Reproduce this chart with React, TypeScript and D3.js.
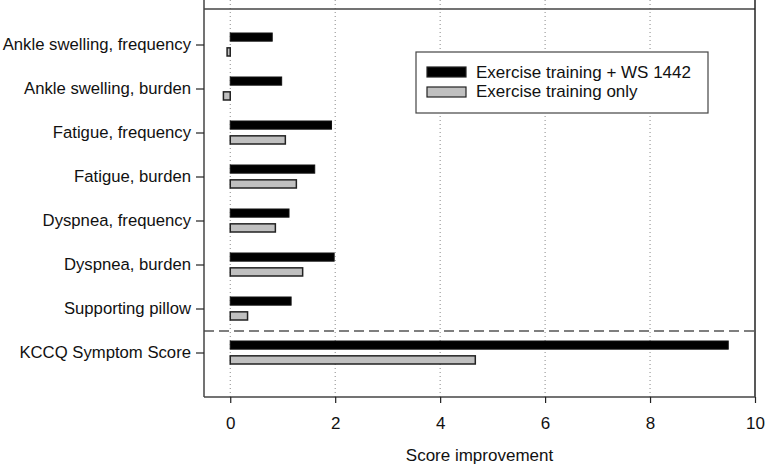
import React, { useEffect, useRef } from 'react';
import * as d3 from 'd3';

const categories = [
  'Ankle swelling, frequency',
  'Ankle swelling, burden',
  'Fatigue, frequency',
  'Fatigue, burden',
  'Dyspnea, frequency',
  'Dyspnea, burden',
  'Supporting pillow',
  'KCCQ Symptom Score'
];

const seriesNames = ['Exercise training + WS 1442', 'Exercise training only'];

// 运动训练 + WS 1442
const withWs1442 = [0.8, 0.98, 1.93, 1.61, 1.12, 1.98, 1.16, 9.49];
// 仅运动训练
const trainingOnly = [-0.06, -0.13, 1.05, 1.26, 0.86, 1.38, 0.33, 4.67];

const xTicks = [0, 2, 4, 6, 8, 10];

const W = 767;
const H = 467;
const FONT = '"Liberation Sans", Arial, Helvetica, sans-serif';

const App: React.FC = () => {
  const svgRef = useRef<SVGSVGElement>(null);

  useEffect(() => {
    if (!svgRef.current) return;
    const svg = d3.select(svgRef.current);
    svg.selectAll('*').remove();

    const left = 204;
    const right = 755;
    const bottom = 397;
    const topLine = 9;

    const x = d3.scaleLinear().domain([-0.5, 10]).range([left, right]);
    const y = d3.scaleBand<string>().domain(categories).range([23, 375]);
    const sub = d3.scaleBand<string>().domain(seriesNames).range([y.bandwidth() / 2 - 12, y.bandwidth() / 2 + 11]).paddingInner(0.45);

    const g = svg.append('g').attr('font-family', FONT);

    // 网格线（虚点）
    g.selectAll('line.grid')
      .data(xTicks.filter(t => t < 10))
      .enter()
      .append('line')
      .attr('class', 'grid')
      .attr('x1', d => x(d))
      .attr('x2', d => x(d))
      .attr('y1', 0)
      .attr('y2', bottom)
      .attr('stroke', '#888')
      .attr('stroke-width', 1)
      .attr('stroke-dasharray', '1,3');

    // 柱子
    const rows = g.selectAll('g.row')
      .data(categories)
      .enter()
      .append('g')
      .attr('class', 'row')
      .attr('transform', d => `translate(0, ${y(d)})`);

    rows.append('rect')
      .attr('x', (d, i) => x(Math.min(0, withWs1442[i])))
      .attr('y', sub(seriesNames[0])!)
      .attr('width', (d, i) => Math.abs(x(withWs1442[i]) - x(0)))
      .attr('height', sub.bandwidth())
      .attr('fill', '#000')
      .attr('stroke', '#111')
      .attr('stroke-width', 1);

    rows.append('rect')
      .attr('x', (d, i) => x(Math.min(0, trainingOnly[i])))
      .attr('y', sub(seriesNames[1])!)
      .attr('width', (d, i) => Math.abs(x(trainingOnly[i]) - x(0)))
      .attr('height', sub.bandwidth())
      .attr('fill', '#c0c0c0')
      .attr('stroke', '#222')
      .attr('stroke-width', 1.5);

    // 分隔虚线
    const sepY = (y('Supporting pillow')! + y('KCCQ Symptom Score')!) / 2 + y.bandwidth() / 2;
    g.append('line')
      .attr('x1', left)
      .attr('x2', right)
      .attr('y1', sepY)
      .attr('y2', sepY)
      .attr('stroke', '#555')
      .attr('stroke-width', 1.5)
      .attr('stroke-dasharray', '10,5');

    // 边框
    g.append('line')
      .attr('x1', left).attr('x2', right)
      .attr('y1', topLine).attr('y2', topLine)
      .attr('stroke', '#444').attr('stroke-width', 1.5);
    g.append('line')
      .attr('x1', right).attr('x2', right)
      .attr('y1', 0).attr('y2', bottom)
      .attr('stroke', '#222').attr('stroke-width', 1.5);

    // x 轴
    const xAxis = g.append('g')
      .attr('transform', `translate(0, ${bottom})`)
      .call(d3.axisBottom(x).tickValues(xTicks).tickSize(6).tickPadding(14).tickSizeOuter(0));
    xAxis.select('.domain').attr('stroke', '#444').attr('stroke-width', 1.5).attr('d', `M${left},0H${right}`);
    xAxis.selectAll('.tick line').attr('stroke', '#222').attr('stroke-width', 1.2);
    xAxis.selectAll('.tick text')
      .attr('font-family', FONT)
      .style('font-size', '17px')
      .attr('fill', '#111');

    // y 轴
    const yAxis = g.append('g')
      .attr('transform', `translate(${left}, 0)`)
      .call(d3.axisLeft(y).tickSize(8).tickPadding(5).tickSizeOuter(0));
    yAxis.select('.domain').attr('stroke', '#444').attr('stroke-width', 1.5).attr('d', `M0,0V${bottom}`);
    yAxis.selectAll('.tick line').attr('stroke', '#222').attr('stroke-width', 1.2);
    yAxis.selectAll('.tick text')
      .attr('font-family', FONT)
      .style('font-size', '16.7px')
      .attr('fill', '#111');

    // x 轴标题
    g.append('text')
      .attr('x', (left + right) / 2)
      .attr('y', 461)
      .attr('text-anchor', 'middle')
      .style('font-size', '17px')
      .attr('fill', '#111')
      .text('Score improvement');

    // 图例
    const legend = g.append('g').attr('transform', 'translate(416, 52)');
    legend.append('rect')
      .attr('width', 292)
      .attr('height', 61)
      .attr('fill', '#fff')
      .attr('stroke', '#444')
      .attr('stroke-width', 1.2);
    const fills = ['#000', '#c0c0c0'];
    seriesNames.forEach((name, i) => {
      legend.append('rect')
        .attr('x', 11)
        .attr('y', 15 + i * 20)
        .attr('width', 39)
        .attr('height', 10)
        .attr('fill', fills[i])
        .attr('stroke', '#222')
        .attr('stroke-width', 1.2);
      legend.append('text')
        .attr('x', 60)
        .attr('y', 26 + i * 19)
        .style('font-size', '17px')
        .attr('fill', '#111')
        .text(name);
    });
  }, []);

  return (
    <svg
      ref={svgRef}
      width={W}
      height={H}
      style={{ position: 'absolute', left: 0, top: 0, background: '#fff' }}
    />
  );
};

export default App;
